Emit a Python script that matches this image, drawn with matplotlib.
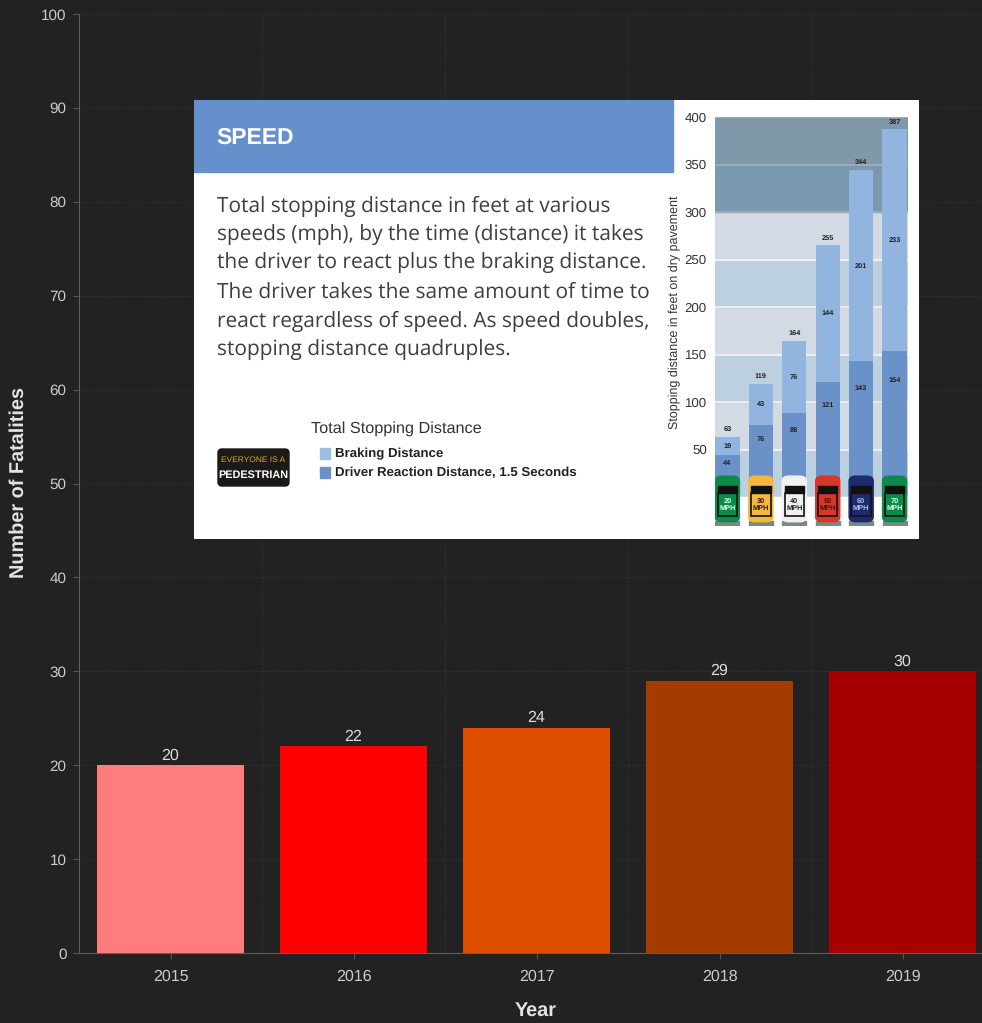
import matplotlib
matplotlib.use("Agg")
import matplotlib.pyplot as plt
from matplotlib.patches import FancyBboxPatch, Rectangle

plt.rcParams['font.family'] = ['Liberation Sans', 'DejaVu Sans']
plt.rcParams['text.hinting'] = 'no_hinting'

# main chart
years = ['2015', '2016', '2017', '2018', '2019']
fatalities = [20, 22, 24, 29, 30]
bar_colors = ['#FF7C7C', '#FF0000', '#E04E00', '#A43C00', '#A80000']
y_ticks = [0, 10, 20, 30, 40, 50, 60, 70, 80, 90, 100]

# picture on top of the chart: stopping distances
speeds = ['20', '30', '40', '50', '60', '70']
reaction = [44, 76, 88, 121, 143, 154]
braking = [19, 43, 76, 144, 201, 233]
total_labels = ['63', '119', '164', '255', '344', '387']
car_colors = ['#0B8A4B', '#F5B83D', '#F0F0F0', '#D9352B', '#1E2A6E', '#0B8A4B']
car_text = ['#D8FFE4', '#222222', '#222222', '#501010', '#B0C0F0', '#D8FFE4']
dist_ticks = [50, 100, 150, 200, 250, 300, 350, 400]
body_lines = ['Total stopping distance in feet at various',
              'speeds (mph), by the time (distance) it takes',
              'the driver to react plus the braking distance.',
              'The driver takes the same amount of time to',
              'react regardless of speed. As speed doubles,',
              'stopping distance quadruples.']

W, H = 982, 1023
BG = '#222222'

fig = plt.figure(figsize=(W / 100, H / 100), dpi=100, facecolor=BG)


def px_axes(x0, y0, x1, y1):
    # axes from pixel box, y measured from the top of the image
    return fig.add_axes([x0 / W, 1 - y1 / H, (x1 - x0) / W, (y1 - y0) / H])


ax = px_axes(79, 14, 982, 953)
ax.set_facecolor(BG)
x = range(len(years))
bars = ax.bar(x, fatalities, width=0.80, color=bar_colors, zorder=3)
ax.bar_label(bars, padding=1.5, color='#DDDDDD', fontsize=11.5)
ax.set_xlim(-0.5, 4.434)
ax.set_ylim(0, 100)
ax.set_xticks(list(x), years)
ax.set_yticks(y_ticks)
ax.set_xticks([0.5, 1.5, 2.5, 3.5], minor=True)
ax.tick_params(axis='x', which='minor', length=0)
ax.tick_params(axis='both', which='major', colors='#555555', labelcolor='#CCCCCC',
               labelsize=11, length=4, width=0.8)
ax.tick_params(axis='x', which='major', pad=8, labelsize=11.5)
ax.tick_params(axis='y', which='major', pad=5)
ax.grid(axis='y', color='#363636', linestyle=':', linewidth=0.8, zorder=0)
ax.grid(axis='x', which='minor', color='#363636', linestyle=':', linewidth=0.8, zorder=0)
for s in ['top', 'right']:
    ax.spines[s].set_visible(False)
for s in ['left', 'bottom']:
    ax.spines[s].set_color('#5A5F5F')
fig.text(19 / W, 1 - 482 / H, 'Number of Fatalities', rotation=90, color='#E4E4E4',
         fontsize=14.3, fontweight='bold', ha='center', va='center')
fig.text(536 / W, 1 - 1011 / H, 'Year', color='#E4E4E4', fontsize=14.3,
         fontweight='bold', ha='center', va='center')

# white card, coordinates are image pixels
card = px_axes(194, 100, 919, 539)
card.set_xlim(194, 919)
card.set_ylim(539, 100)
card.set_facecolor('white')
card.axis('off')
card.add_patch(Rectangle((194, 100), 725, 439, color='white', zorder=0))
card.add_patch(Rectangle((194, 100), 479, 72, color='#6690CC', zorder=1))
card.text(216, 138, 'SPEED', color='white', fontsize=16.5, fontweight='bold', va='center')
for i, line in enumerate(body_lines):
    card.text(217, 212 + i * 28.7, line, color='#3E3E3E', fontsize=15.0, va='baseline',
              family=['Open Sans', 'DejaVu Sans'])
card.text(311, 429, 'Total Stopping Distance', color='#333333', fontsize=11.7, va='center')
card.add_patch(Rectangle((320, 448), 10, 11, color='#9CBDE6'))
card.add_patch(Rectangle((320, 467), 10, 11, color='#6A92C8'))
card.text(335, 454, 'Braking Distance', color='#222222', fontsize=9.5,
          fontweight='bold', va='center')
card.text(335, 473, 'Driver Reaction Distance, 1.5 Seconds', color='#222222', fontsize=9.5,
          fontweight='bold', va='center')
card.add_patch(FancyBboxPatch((218, 449), 71, 37, boxstyle='round,pad=0,rounding_size=4',
                              color='#1C1A18'))
card.text(253.5, 459.5, 'EVERYONE IS A', color='#E0A820', fontsize=6, ha='center', va='center')
card.text(253.5, 475, 'PEDESTRIAN', color='white', fontsize=7.8, ha='center', va='center',
          fontweight='bold')

# small stacked chart inside the card
dist = px_axes(715, 117, 908, 526)
dist.set_xlim(-0.37, 5.40)
dist.set_ylim(-30.5, 400)
dist.set_facecolor('white')
for s in dist.spines.values():
    s.set_visible(False)
light = ['#D3DAE4', '#BDD0E0']
for i, low in enumerate(range(0, 300, 50)):
    dist.axhspan(low, low + 50, xmin=0, xmax=1, color=light[(i + 1) % 2], zorder=0)
dist.axhspan(300, 350, color='#7A98AE', zorder=0)
dist.axhspan(350, 400, color='#7F99AA', zorder=0)
dist.axhspan(-30.5, 0, color='white', zorder=0.5)
for t in dist_ticks:
    dist.axhline(t, color='#F2F4F6' if t < 300 else '#A0B2C0', linewidth=1.2, zorder=1)
pos = list(range(len(speeds)))
dist.bar(pos, reaction, width=0.73, color='#6A92C8', zorder=2)
dist.bar(pos, braking, width=0.73, bottom=reaction, color='#92B5E0', zorder=2)
dist.set_xticks([])
dist.set_yticks(dist_ticks)
dist.tick_params(axis='y', length=0, pad=5.8, labelsize=9.5, labelcolor='#333333')
dist.set_ylabel('Stopping distance in feet on dry pavement', fontsize=9, color='#333333',
                labelpad=3, y=0.523)
for i in pos:
    top = reaction[i] + braking[i]
    dist.text(i, top + 8, total_labels[i], fontsize=5.3, fontweight='bold', ha='center',
              va='center', color='#222222', zorder=4)
    dist.text(i, reaction[i] + braking[i] / 2, braking[i], fontsize=5.3, fontweight='bold',
              ha='center', va='center', color='#222222', zorder=4)
    dist.text(i, reaction[i] * 0.8, reaction[i], fontsize=5.3, fontweight='bold',
              ha='center', va='center', color='#222222', zorder=4)
    # car
    dist.add_patch(Rectangle((i - 0.36, -30), 0.72, 5, color='#7A8A80', zorder=4.5))
    dist.add_patch(FancyBboxPatch((i - 0.36, -26), 0.72, 48,
                                  boxstyle='round,pad=0,rounding_size=0.2', mutation_aspect=25,
                                  color=car_colors[i], zorder=5))
    dist.add_patch(Rectangle((i - 0.29, 4), 0.58, 8, color='#111111', zorder=6))
    dist.add_patch(Rectangle((i - 0.29, -20), 0.58, 24, facecolor='none', edgecolor='#111111',
                             linewidth=1.2, zorder=6))
    dist.text(i, -8, speeds[i] + '\nMPH', fontsize=5.3, fontweight='bold', ha='center',
              va='center', color=car_text[i], zorder=7, linespacing=1.1)

fig.savefig('out.png', dpi=100, facecolor=BG)
